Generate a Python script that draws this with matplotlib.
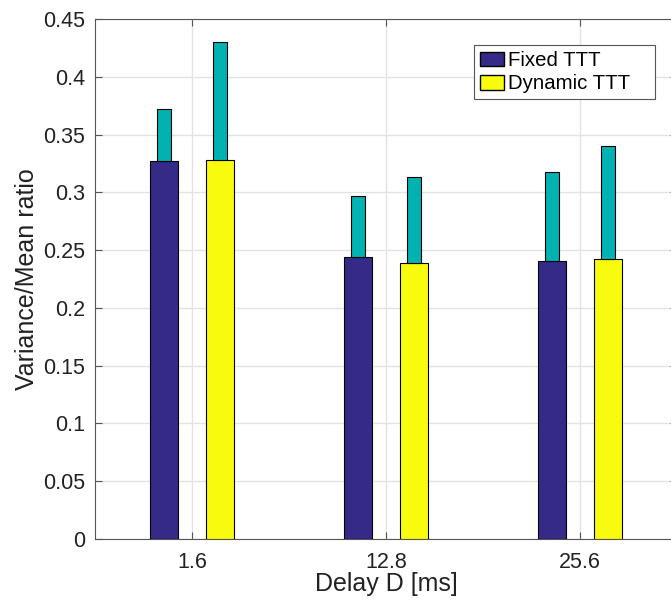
import numpy as np
import matplotlib
matplotlib.use("Agg")
import matplotlib.pyplot as plt
from matplotlib.patches import Patch

matplotlib.rcParams.update({"font.size": 15, "font.family": ["Liberation Sans", "DejaVu Sans"]})

delays = ["1.6", "12.8", "25.6"]
fixed_base = [0.327, 0.244, 0.241]
fixed_total = [0.372, 0.297, 0.318]
dynamic_base = [0.328, 0.239, 0.242]
dynamic_total = [0.430, 0.313, 0.340]

blue = "#352a87"
yellow = "#f9fb0e"
teal = "#00b2b2"

x = np.arange(1, len(delays) + 1)
off = 0.143
w = 0.143

fig = plt.figure(figsize=(6.71, 6.0), dpi=100)
ax = fig.add_axes([95 / 671, 61 / 600, 582 / 671, 520 / 600])

fixed_extra = np.array(fixed_total) - np.array(fixed_base)
dynamic_extra = np.array(dynamic_total) - np.array(dynamic_base)

ax.bar(x - off, fixed_base, w, color=blue, edgecolor="black", linewidth=0.8, zorder=3)
ax.bar(x - off, fixed_extra, w / 2, bottom=fixed_base, color=teal, edgecolor="black", linewidth=0.8, zorder=3)
ax.bar(x + off, dynamic_base, w, color=yellow, edgecolor="black", linewidth=0.8, zorder=3)
ax.bar(x + off, dynamic_extra, w / 2, bottom=dynamic_base, color=teal, edgecolor="black", linewidth=0.8, zorder=3)

ax.set_xlim(0.5, 3.5)
ax.set_ylim(0, 0.45)
ax.set_xticks(x, delays)
ax.set_yticks(np.arange(0, 0.451, 0.05), ["0", "0.05", "0.1", "0.15", "0.2", "0.25", "0.3", "0.35", "0.4", "0.45"])
ax.tick_params(direction="in", top=True, right=True, length=5, color="#555555", labelsize=15.5, labelcolor="#222222")
ax.tick_params(axis="y", pad=7)
ax.tick_params(axis="x", pad=9)
ax.grid(True, color="#e3e3e3", linewidth=1, zorder=0)
for s in ax.spines.values():
    s.set_color("#555555")

ax.set_xlabel("Delay D [ms]", fontsize=18, color="#222222", labelpad=0)
ax.set_ylabel("Variance/Mean ratio", fontsize=18, color="#222222", labelpad=3)

handles = [Patch(facecolor=blue, edgecolor="black"), Patch(facecolor=yellow, edgecolor="black")]
leg = ax.legend(handles, ["Fixed TTT", "Dynamic TTT"], loc="upper left", mode="expand",
                bbox_to_anchor=((474 - 95) / 582, (539 - 100) / 520, (655 - 474) / 582, 55 / 520),
                fontsize=14.7, fancybox=False, framealpha=1, edgecolor="#555555", borderpad=0.3,
                handlelength=1.15, handleheight=0.75, handletextpad=0.2, labelspacing=0.2,
                borderaxespad=0)
leg.get_frame().set_linewidth(0.8)

fig.savefig("out.png", dpi=100)
